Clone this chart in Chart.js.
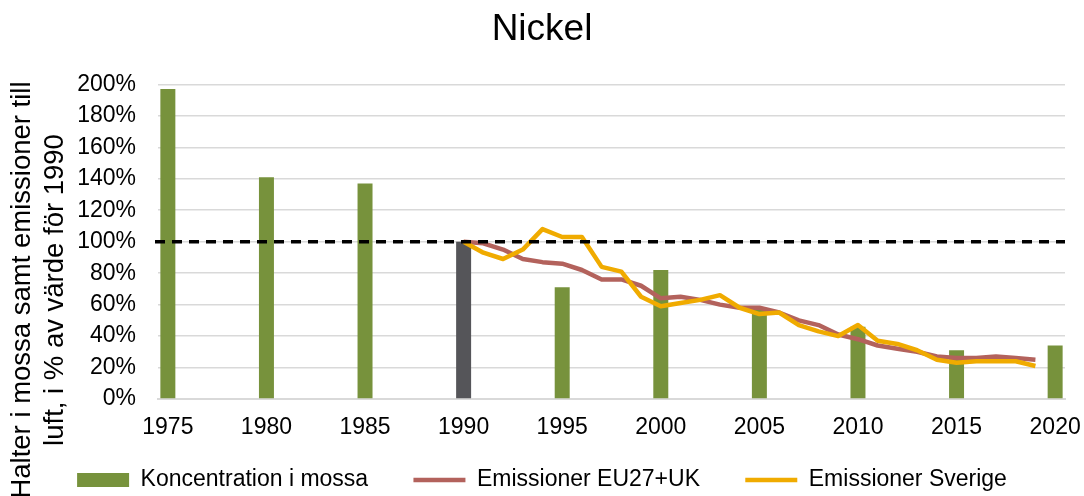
<!DOCTYPE html>
<html>
<head>
<meta charset="utf-8">
<script src="https://cdn.jsdelivr.net/npm/chart.js@4/dist/chart.umd.min.js"></script>
<style>
  html, body { margin: 0; padding: 0; background: #fff; }
  #wrap { width: 1084px; height: 496px; }
</style>
</head>
<body>
<div id="wrap"><canvas id="nickel"></canvas></div>
<script>
// Ni: halter i mossa (var 5:e år) och emissioner, i % av 1990
var mossYears = [1975, 1980, 1985, 1990, 1995, 2000, 2005, 2010, 2015, 2020];
var mossValues = [197, 141, 137, 100, 71, 82, 57, 46, 31, 34];

var emissionYears = [1990, 1991, 1992, 1993, 1994, 1995, 1996, 1997, 1998, 1999,
    2000, 2001, 2002, 2003, 2004, 2005, 2006, 2007, 2008, 2009,
    2010, 2011, 2012, 2013, 2014, 2015, 2016, 2017, 2018, 2019];
var euValues = [100, 99, 95, 89, 87, 86, 82, 76, 76, 72,
    64, 65, 63, 60, 58, 58, 55, 50, 47, 41,
    38, 34, 32, 30, 27, 26, 26, 27, 26, 25];
var seValues = [100, 93, 89, 95, 108, 103, 103, 84, 81, 65,
    59, 61, 63, 66, 58, 54, 55, 47, 43, 40,
    47, 37, 35, 31, 25, 23, 24, 24, 24, 21];

var referenceLevel = 100;
var firstYear = 1975;
var lastYear = 2020;

var yAxisTitle = ['Halter i mossa samt emissioner till', 'luft, i % av värde för 1990'];

var years = [];
for (var y = firstYear; y <= lastYear; y++) years.push(y);

function byYear(srcYears, srcValues) {
    return years.map(function (yr) {
        var i = srcYears.indexOf(yr);
        return i < 0 ? null : srcValues[i];
    });
}

var green = '#77923C';
var baseGrey = '#555559';

var barColors = years.map(function (yr) {
    return yr === 1990 ? baseGrey : green;
});

// streckad linje vid 100 %
var referenceLine = {
    id: 'referenceLine',
    afterDatasetsDraw: function (chart) {
        var ctx = chart.ctx;
        var area = chart.chartArea;
        var yPix = chart.scales.y.getPixelForValue(referenceLevel);
        ctx.save();
        ctx.strokeStyle = '#000';
        ctx.lineWidth = 3.5;
        ctx.setLineDash([10, 7]);
        ctx.beginPath();
        ctx.moveTo(area.left - 3, yPix);
        ctx.lineTo(area.right, yPix);
        ctx.stroke();
        ctx.restore();
    }
};

// axeltitel, två rader
var axisTitle = {
    id: 'axisTitle',
    afterDraw: function (chart) {
        var ctx = chart.ctx;
        ctx.save();
        ctx.font = '27.5px "Liberation Sans", Arial, sans-serif';
        ctx.fillStyle = '#000';
        ctx.textAlign = 'center';
        ctx.textBaseline = 'middle';
        ctx.translate(0, 290);
        ctx.rotate(-Math.PI / 2);
        ctx.fillText(yAxisTitle[0], 0, 22);
        ctx.fillText(yAxisTitle[1], 0, 55);
        ctx.restore();
    }
};

var font = '"Liberation Sans", Arial, sans-serif';

new Chart(document.getElementById('nickel'), {
    data: {
        labels: years.map(String),
        datasets: [{
            type: 'bar',
            label: 'Koncentration i mossa',
            data: byYear(mossYears, mossValues),
            backgroundColor: barColors,
            barPercentage: 0.76,
            categoryPercentage: 1,
            order: 3
        }, {
            type: 'line',
            label: 'Emissioner EU27+UK',
            data: byYear(emissionYears, euValues),
            borderColor: '#B3625C',
            backgroundColor: '#B3625C',
            borderWidth: 4.5,
            pointRadius: 0,
            borderJoinStyle: 'round',
            tension: 0,
            order: 2
        }, {
            type: 'line',
            label: 'Emissioner Sverige',
            data: byYear(emissionYears, seValues),
            borderColor: '#F0AB00',
            backgroundColor: '#F0AB00',
            borderWidth: 4.5,
            pointRadius: 0,
            borderJoinStyle: 'round',
            tension: 0,
            order: 1
        }]
    },
    options: {
        responsive: true,
        maintainAspectRatio: false,
        animation: false,
        layout: {
            padding: 0
        },
        plugins: {
            title: {
                display: true,
                text: 'Nickel',
                color: '#000',
                font: { family: font, size: 37, weight: 'normal' },
                padding: { top: 8, bottom: 32 }
            },
            legend: {
                position: 'bottom',
                maxHeight: 60,
                labels: {
                    color: '#000',
                    font: { family: font, size: 23 },
                    usePointStyle: true,
                    pointStyleWidth: 52,
                    boxHeight: 14,
                    padding: 32.5,
                    generateLabels: function (chart) {
                        var items = Chart.defaults.plugins.legend.labels.generateLabels(chart);
                        items.sort(function (a, b) { return a.datasetIndex - b.datasetIndex; });
                        items.forEach(function (item, i) {
                            var ds = chart.data.datasets[item.datasetIndex];
                            if (ds.type === 'bar') {
                                item.pointStyle = 'rect';
                                item.fillStyle = green;
                                item.strokeStyle = green;
                                item.lineWidth = 0;
                            } else {
                                item.pointStyle = 'line';
                                item.strokeStyle = ds.borderColor;
                                item.lineWidth = 4.5;
                            }
                            if (i < items.length - 1) item.text += '  ';
                        });
                        return items;
                    }
                }
            },
            tooltip: { enabled: false }
        },
        scales: {
            x: {
                afterFit: function (scale) {
                    scale.height = 37;
                    scale.paddingLeft = 0;
                    scale.paddingRight = 19;
                },
                grid: { display: false },
                border: { color: '#D9D9D9', width: 2 },
                ticks: {
                    color: '#000',
                    font: { family: font, size: 23 },
                    autoSkip: false,
                    maxRotation: 0,
                    padding: 7,
                    callback: function (value) {
                        var yr = years[value];
                        return yr % 5 === 0 ? String(yr) : '';
                    }
                }
            },
            y: {
                min: 0,
                max: 200,
                afterFit: function (scale) { scale.width = 158; },
                grid: { color: '#D9D9D9', lineWidth: 1.5, drawTicks: false },
                border: { display: false },
                ticks: {
                    stepSize: 20,
                    color: '#000',
                    font: { family: font, size: 23 },
                    padding: 22,
                    callback: function (v) { return v + '%'; }
                }
            }
        }
    },
    plugins: [referenceLine, axisTitle]
});
</script>
</body>
</html>
